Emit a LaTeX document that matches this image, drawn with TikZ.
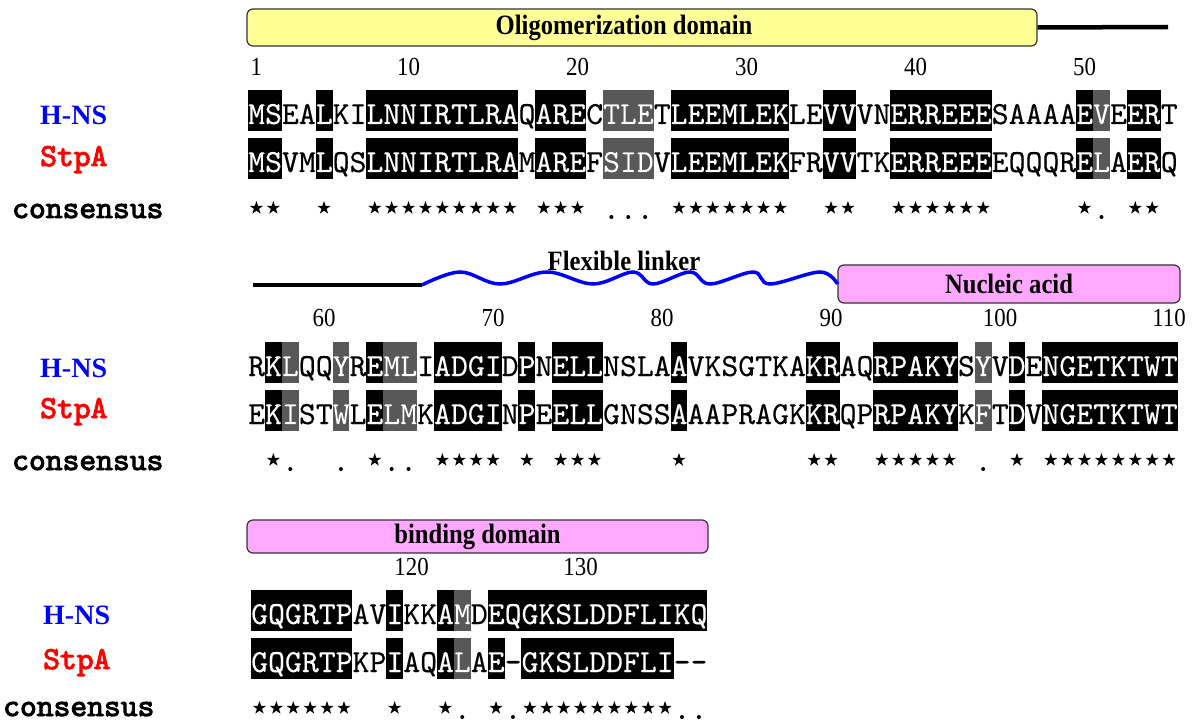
\documentclass[tikz,border=0pt]{standalone}
\usepackage{fontspec}
\setmainfont{Liberation Serif}
\newfontfamily\seqfont{lmmono10-regular.otf}[FakeBold=0.3]
\newfontfamily\labelfont{lmmono10-regular.otf}[FakeBold=3]
\usepackage{graphicx}
\usetikzlibrary{shapes.geometric}
\definecolor{domyellow}{RGB}{255,255,150}
\definecolor{dompink}{RGB}{255,168,255}
\definecolor{simgrey}{RGB}{88,88,88}
\definecolor{hnsblue}{RGB}{0,0,255}
\definecolor{stpared}{RGB}{255,0,0}
\tikzset{
  residues/.style={anchor=base west, inner sep=0pt, font=\seqfont\fontsize{32.19}{34}\selectfont},
  dombox/.style={draw=black!80, line width=1.2pt, rounded corners=6pt, inner sep=0pt,
    font=\fontsize{28}{30}\selectfont\bfseries},
  domtext/.style={inner sep=0pt, font=\fontsize{28}{30}\selectfont\bfseries},
  domline/.style={line width=4.5pt},
  linker/.style={line width=3.5pt, blue},
  posnum/.style={inner sep=0pt, font=\fontsize{26}{28}\selectfont},
  hnslabel/.style={anchor=base west, inner sep=0pt, text=hnsblue, font=\fontsize{28}{30}\selectfont\bfseries},
  stpalabel/.style={anchor=base west, inner sep=0pt, text=stpared, font=\labelfont\fontsize{32}{34}\selectfont},
  conslabel/.style={anchor=base west, inner sep=0pt, font=\labelfont\fontsize{32}{34}\selectfont},
  cstar/.style={star, star points=5, star point ratio=2.6, fill=black, inner sep=0pt, minimum size=14pt},
  cdot/.style={circle, fill=black, inner sep=0pt, minimum size=4pt}
}
\newcommand{\narrow}[1]{\scalebox{0.88}[1]{#1}}
% #1 name, #2 x of column 1, #3 top of box, #4 black ranges, #5 grey ranges, #6 residues
\newcommand{\alnrow}[6]{%
  \foreach \a/\b in {#4}
    \fill[black] ({#2+(\a-1)*16.9},#3) rectangle ({#2+\b*16.9},#3+41);
  \foreach \a/\b in {#5}
    \fill[simgrey] ({#2+(\a-1)*16.9},#3) rectangle ({#2+\b*16.9},#3+41);
  \node[residues] (#1) at (#2,#3+34) {#6};
  \begin{scope}
    \clip \foreach \a/\b in {#4,#5} {({#2+(\a-1)*16.9},#3) rectangle ({#2+\b*16.9},#3+41)};
    \node[residues, text=white] (#1w) at (#2,#3+34) {#6};
  \end{scope}}
% #1 x of column 1, #2 top of row, #3 stars, #4 dots
\newcommand{\consrow}[4]{%
  \foreach \p in {#3}
    \node[cstar] (s#2-\p) at ({#1+(\p-0.5)*16.9},#2+118) {};
  \foreach \p in {#4}
    \node[cdot] (d#2-\p) at ({#1+(\p-0.5)*16.9},#2+127) {};}

\begin{document}
\begin{tikzpicture}[x=1pt,y=-1pt]
  \useasboundingbox (0,0) rectangle (1192,722);

  % domains
  \node[dombox, fill=domyellow, minimum width=790pt, minimum height=37pt] (oligo) at (642,27.5) {};
  \node[domtext] (oligotext) at (624,27.5) {\narrow{Oligomerization domain}};
  \coordinate (tail1) at (1168,27);
  \draw[domline] (oligo.east) -- (tail1);
  \node[dombox, fill=dompink, minimum width=342pt, minimum height=38pt] (nucleic) at (1009,284) {\narrow{Nucleic acid}};
  \coordinate (tail2) at (253,285);
  \coordinate (wave0) at (422,285);
  \draw[domline] (tail2) -- (wave0);
  \draw[linker] plot[smooth, tension=0.6] coordinates {(wave0) (460,272) (500,284) (547,272) (593,284) (633,272) (653,284) (690,272) (710,284) (753,272) (770,284) (820,272) (nucleic.west)};
  \node[domtext] (flex) at (624,261) {\narrow{Flexible linker}};
  \node[dombox, fill=dompink, minimum width=461pt, minimum height=33pt] (binding) at (477.5,536.5) {\narrow{binding domain}};

  % residue numbers
  \foreach \n in {1,10,20,30,40,50}
    \node[posnum] (p\n) at ({248+(\n-0.5)*16.9},67) {\narrow{\n}};
  \foreach \n in {60,70,80,90,100,110}
    \node[posnum] (p\n) at ({248+(\n-55.5)*16.9},318) {\narrow{\n}};
  \foreach \n in {120,130}
    \node[posnum] (p\n) at ({251+(\n-110.5)*16.9},567) {\narrow{\n}};

  % labels
  \node[hnslabel] (hnsA) at (40,125) {H-NS};
  \node[stpalabel] (stpaA) at (40,166) {StpA};
  \node[conslabel] (consA) at (12,218) {consensus};
  \node[hnslabel] (hnsB) at (40,377) {H-NS};
  \node[stpalabel] (stpaB) at (40,418) {StpA};
  \node[conslabel] (consB) at (12,470) {consensus};
  \node[hnslabel] (hnsC) at (43,624) {H-NS};
  \node[stpalabel] (stpaC) at (43,669) {StpA};
  \node[conslabel] (consC) at (3,716) {consensus};

  % block 1: residues 1-55
  \alnrow{hns1}{248}{90}{1/2,5/5,8/16,18/20,26/32,35/36,39/44,50/50,53/54}{22/24,51/51}{MSEALKILNNIRTLRAQARECTLETLEEMLEKLEVVVNERREEESAAAAEVEERT}
  \alnrow{stpa1}{248}{138}{1/2,5/5,8/16,18/20,26/32,35/36,39/44,50/50,53/54}{22/24,51/51}{MSVMLQSLNNIRTLRAMAREFSIDVLEEMLEKFRVVTKERREEEEQQQRELAERQ}
  \consrow{248}{90}{1,2,5,8,9,10,11,12,13,14,15,16,18,19,20,26,27,28,29,30,31,32,35,36,39,40,41,42,43,44,50,53,54}{22,23,24,51}

  % block 2: residues 56-110
  \alnrow{hns2}{248}{342}{2/2,8/8,12/15,17/17,19/21,26/26,34/35,38/42,46/46,48/55}{3/3,6/6,9/10,44/44}{RKLQQYREMLIADGIDPNELLNSLAAVKSGTKAKRAQRPAKYSYVDENGETKTWT}
  \alnrow{stpa2}{248}{390}{2/2,8/8,12/15,17/17,19/21,26/26,34/35,38/42,46/46,48/55}{3/3,6/6,9/10,44/44}{EKISTWLELMKADGINPEELLGNSSAAAPRAGKKRQPRPAKYKFTDVNGETKTWT}
  \consrow{248}{342}{2,8,12,13,14,15,17,19,20,21,26,34,35,38,39,40,41,42,46,48,49,50,51,52,53,54,55}{3,6,9,10,44}

  % block 3: residues 111-137
  \alnrow{hns3}{251}{590}{1/6,9/9,12/12,15/27}{13/13}{GQGRTPAVIKKAMDEQGKSLDDFLIKQ}
  \alnrow{stpa3}{251}{638}{1/6,9/9,12/12,15/15,17/25}{13/13}{GQGRTPKPIAQALAE-GKSLDDFLI--}
  \consrow{251}{590}{1,2,3,4,5,6,9,12,15,17,18,19,20,21,22,23,24,25}{13,16,26,27}
\end{tikzpicture}
\end{document}
